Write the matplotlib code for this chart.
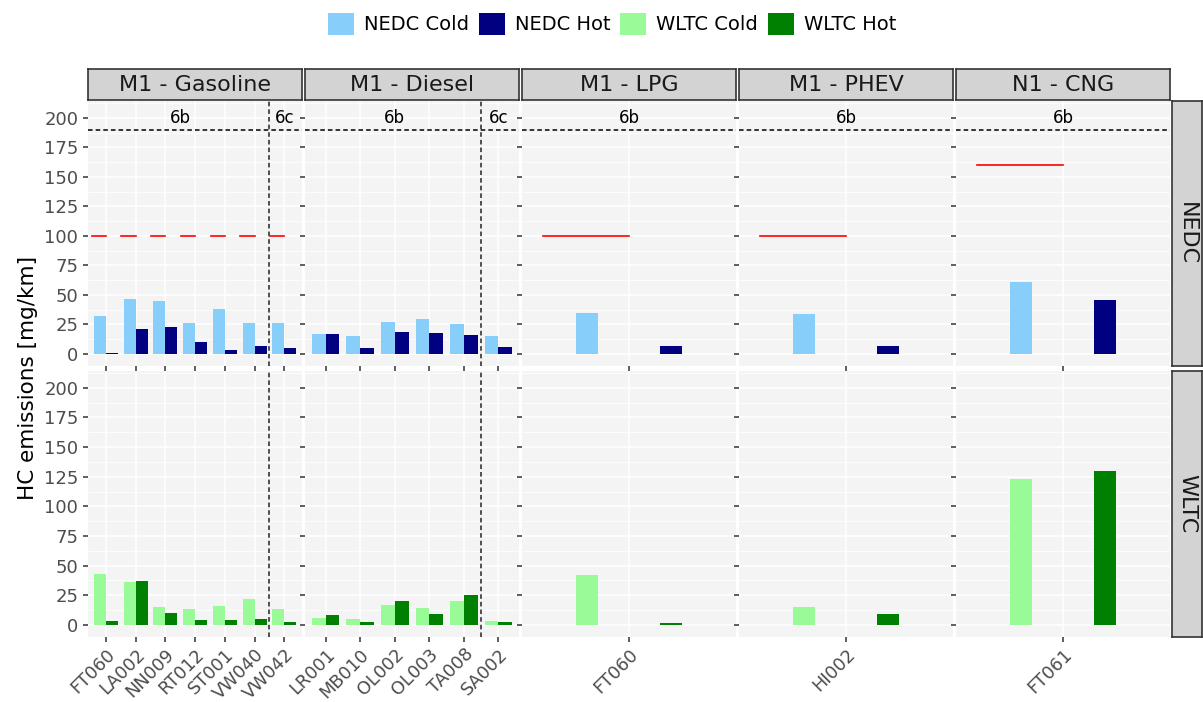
"""
HC emissions per vehicle, NEDC vs WLTC, faceted by category
"""

import matplotlib.pyplot as plt
from matplotlib.patches import Patch
from matplotlib.ticker import MultipleLocator
import numpy as np

# Données
categories = ['M1 - Gasoline', 'M1 - Diesel', 'M1 - LPG', 'M1 - PHEV', 'N1 - CNG']
vehicles = [
    ['FT060', 'LA002', 'NN009', 'RT012', 'ST001', 'VW040', 'VW042'],
    ['LR001', 'MB010', 'OL002', 'OL003', 'TA008', 'SA002'],
    ['FT060'],
    ['HI002'],
    ['FT061'],
]
euro_stage = [
    ['6b', '6b', '6b', '6b', '6b', '6b', '6c'],
    ['6b', '6b', '6b', '6b', '6b', '6c'],
    ['6b'],
    ['6b'],
    ['6b'],
]
nedc_cold = [[32, 46.5, 44.5, 26.6, 37.7, 26.6, 26.6],
             [17, 15, 27, 29.7, 25, 15],
             [34.8], [34], [60.6]]
nedc_hot = [[1.1, 21, 23, 10.2, 3.4, 7.1, 5.1],
            [17, 5.1, 19, 18.1, 16.1, 5.9],
            [7.1], [7.1], [45.6]]
wltc_cold = [[42.6, 35.8, 15, 13, 15.9, 21.9, 13],
             [6.2, 5.1, 17, 14.2, 20.2, 3.1],
             [41.8], [15], [123.3]]
wltc_hot = [[3.1, 37, 9.9, 4.3, 4.3, 5.4, 2.3],
            [8.2, 2.3, 20.2, 9.1, 25, 2.3],
            [2], [9.1], [129.8]]
nedc_limit = [100, None, 100, 100, 160]
stage_line = 190
stage_label_y = 200
cycles = ['NEDC', 'WLTC']

colors = {'NEDC Cold': '#87CEFA', 'NEDC Hot': '#000080',
          'WLTC Cold': '#98FB98', 'WLTC Hot': '#008000'}

W, H = 1203, 702
fig = plt.figure(figsize=(W / 100, H / 100), dpi=100)


def px_axes(x0, y0, x1, y1):
    return fig.add_axes([x0 / W, 1 - y1 / H, (x1 - x0) / W, (y1 - y0) / H])


panel_w = 214.2
gap = 2.75
left0 = 88
rows_y = [(101, 366), (371, 637)]
bar_w = [0.4, 0.4, 0.125, 0.125, 0.125]
bar_off = [0.2, 0.2, 0.235, 0.235, 0.235]

for j, cat in enumerate(categories):
    x0 = left0 + j * (panel_w + gap)
    x1 = x0 + panel_w
    n = len(vehicles[j])
    x = np.arange(n)

    # bandeau du haut
    sax = px_axes(x0, 69, x1, 100)
    sax.set_facecolor('#D3D3D3')
    sax.set_xticks([]); sax.set_yticks([])
    for sp in sax.spines.values():
        sp.set_color('#333333'); sp.set_linewidth(1.2)
    sax.text(0.5, 0.47, cat, ha='center', va='center', fontsize=16,
             color='#1A1A1A', transform=sax.transAxes)

    for r, (y0, y1) in enumerate(rows_y):
        ax = px_axes(x0, y0, x1, y1)
        ax.set_facecolor('#F4F4F4')
        for sp in ax.spines.values():
            sp.set_visible(False)
        ax.set_xlim(-0.6, n - 0.4)
        ax.set_ylim(-10.2, 214.2)
        ax.yaxis.set_major_locator(MultipleLocator(25))
        ax.yaxis.set_minor_locator(MultipleLocator(12.5))
        ax.set_xticks(x)
        ax.grid(True, which='major', color='white', linewidth=1.1)
        ax.grid(True, which='minor', axis='y', color='white', linewidth=0.55)
        ax.set_axisbelow(True)
        ax.tick_params(which='major', length=3.5, width=1.1, color='#333333',
                       labelcolor='#4D4D4D', labelsize=13)
        ax.tick_params(axis='x', labelsize=12.8, pad=2.5)
        ax.tick_params(which='minor', length=0)

        if r == 0:
            cold, hot = nedc_cold[j], nedc_hot[j]
            ccol, hcol = colors['NEDC Cold'], colors['NEDC Hot']
        else:
            cold, hot = wltc_cold[j], wltc_hot[j]
            ccol, hcol = colors['WLTC Cold'], colors['WLTC Hot']
        ax.bar(x - bar_off[j], cold, width=bar_w[j], color=ccol, zorder=2)
        ax.bar(x + bar_off[j], hot, width=bar_w[j], color=hcol, zorder=2)

        # changements d'étape Euro
        st = euro_stage[j]
        for k in range(1, n):
            if st[k] != st[k - 1]:
                ax.axvline(k - 0.5, color='#222222', linestyle=(0, (3, 2)),
                           linewidth=1.1, zorder=3)

        if r == 0:
            if nedc_limit[j] is not None:
                for xi in x:
                    ax.plot([xi - 0.48, xi], [nedc_limit[j]] * 2,
                            color='red', linewidth=1.2, zorder=3)
            ax.axhline(stage_line, color='black', linestyle=(0, (3, 2)),
                       linewidth=1.1, zorder=3)
            for s in dict.fromkeys(st):
                idx = [k for k in range(n) if st[k] == s]
                ax.text(np.mean(idx), stage_label_y, s, ha='center',
                        va='center', fontsize=12, color='black', zorder=4)
            ax.set_xticklabels([])
        else:
            ax.set_xticklabels(vehicles[j], rotation=45, ha='right',
                               rotation_mode='anchor')

        if j > 0:
            ax.set_yticklabels([])

        if j == len(categories) - 1:
            rax = px_axes(1172, y0, 1202, y1)
            rax.set_facecolor('#D3D3D3')
            rax.set_xticks([]); rax.set_yticks([])
            for sp in rax.spines.values():
                sp.set_color('#333333'); sp.set_linewidth(1.2)
            rax.text(0.5, 0.5, cycles[r], ha='center', va='center',
                     rotation=-90, fontsize=16, color='#1A1A1A',
                     transform=rax.transAxes)

fig.text(28 / W, 1 - 378 / H, 'HC emissions [mg/km]', rotation=90,
         ha='center', va='center', fontsize=15.5, color='black')

handles = [Patch(facecolor=c, edgecolor='none') for c in colors.values()]
fig.legend(handles, list(colors.keys()), loc='center', ncol=4,
           bbox_to_anchor=(612 / W, 1 - 24 / H), frameon=False,
           fontsize=14, handlelength=1.35, handleheight=1.35,
           handletextpad=0.5, columnspacing=0.5)

fig.savefig('out.png', dpi=100)
